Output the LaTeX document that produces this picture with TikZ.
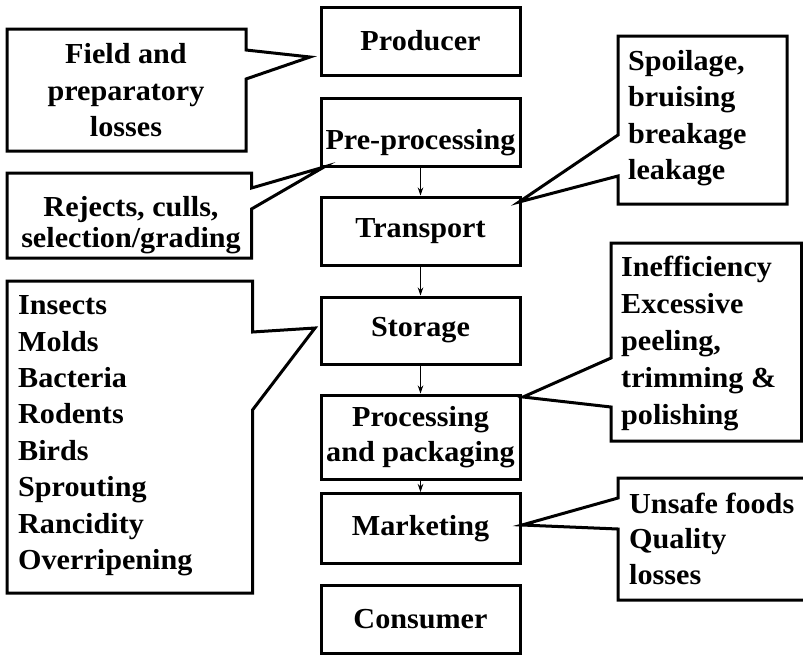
\documentclass[tikz,border=0pt]{standalone}
\usepackage{fontspec}
\usetikzlibrary{arrows.meta}
\newfontfamily\tnr{Liberation Serif}[FakeStretch=1.04]
\begin{document}
\begin{tikzpicture}[x=1pt,y=-1pt,
  lbl/.style={font=\tnr\bfseries\fontsize{29}{36.4}\selectfont, inner sep=0pt},
  stage/.style={draw, line width=3pt, minimum width=199pt, inner sep=0pt, align=center,
                font=\tnr\bfseries\fontsize{29}{35}\selectfont},
  callout/.style={draw, line width=3pt, line join=miter},
  flow/.style={line width=0.8pt, -{Stealth[length=8pt,width=5.5pt]}}]
\useasboundingbox (0,0) rectangle (803,654);
\clip (0,0) rectangle (803,654);
% stage boxes
\node[stage, minimum height=68pt] (prod) at (420.5,41) {Producer};
\node[stage, minimum height=68pt] (pre)  at (420.5,132) {};
\node[lbl, anchor=base] (pretxt) at (420.5,149) {Pre-processing};
\node[stage, minimum height=68pt] (trans) at (420.5,231) {Transport};
\node[stage, minimum height=67pt] (stor) at (420.5,330.5) {Storage};
\node[stage, minimum height=84pt] (proc) at (420.5,437) {Processing\\and packaging};
\node[stage, minimum height=70pt] (mkt) at (420.5,528.5) {Marketing};
\node[stage, minimum height=68pt] (cons) at (420.5,619) {Consumer};
% flow arrows
\draw[flow] (pre.south) -- (trans.north);
\draw[flow] (trans.south) -- (stor.north);
\draw[flow] (stor.south) -- (proc.north);
\draw[flow] (proc.south) -- (mkt.north);
% callouts
\draw[callout] (7,29) -- (246,29) -- (246,50) -- (310,57) -- (246,79) -- (246,151) -- (7,151) -- cycle;
\node[lbl, align=center, anchor=north] (field) at (126,43.5) {Field and\\preparatory\\losses};
\draw[callout] (7,173) -- (251.5,173) -- (251.5,188) -- (324,167) -- (251.5,209) -- (251.5,258) -- (7,258) -- cycle;
\node[lbl, align=center, anchor=north, font=\tnr\bfseries\fontsize{29}{31}\selectfont] (rej) at (131,196) {Rejects, culls,\\selection/grading};
\draw[callout] (618,36) -- (787,36) -- (787,204) -- (618,204) -- (618,176) -- (519,202) -- (618,135) -- cycle;
\node[lbl, align=left, anchor=north west] (spoil) at (628,50) {Spoilage,\\bruising\\breakage\\leakage};
\draw[callout] (7,281) -- (252.5,281) -- (252.5,332) -- (315,328) -- (252.5,410) -- (252.5,593) -- (7,593) -- cycle;
\node[lbl, align=left, anchor=north west] (ins) at (18,295.5) {Insects\\Molds\\Bacteria\\Rodents\\Birds\\Sprouting\\Rancidity\\Overripening};
\draw[callout] (611,243) -- (801.5,243) -- (801.5,441) -- (611,441) -- (611,407) -- (523,397) -- (611,358) -- cycle;
\node[lbl, align=left, anchor=north west, font=\tnr\bfseries\fontsize{29}{37}\selectfont] (ineff) at (621,255.5) {Inefficiency\\Excessive\\peeling,\\trimming \&\\polishing};
\draw[callout] (618,478) -- (830,478) -- (830,600) -- (618,600) -- (618,529) -- (522,525) -- (618,498) -- cycle;
\node[lbl, align=left, anchor=north west, font=\tnr\bfseries\fontsize{29}{35.5}\selectfont] (unsafe) at (629,492.5) {Unsafe foods\\Quality\\losses};
\end{tikzpicture}
\end{document}
